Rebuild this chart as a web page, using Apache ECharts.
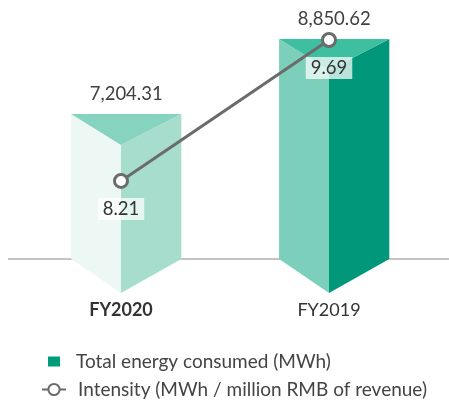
<!DOCTYPE html>
<html>
<head>
<meta charset="utf-8">
<script src="https://cdn.jsdelivr.net/npm/echarts@6/dist/echarts.min.js"></script>
<style>
  html, body { margin: 0; padding: 0; background: #fff; }
  #main { width: 449px; height: 400px; }
</style>
</head>
<body>
<div id="main"></div>
<script>
// chart data
const years = ['FY2020', 'FY2019'];
const energy = [7204.31, 8850.62];
const intensity = [8.21, 9.69];
const seriesNames = ['Total energy consumed (MWh)', 'Intensity (MWh / million RMB of revenue)'];

// axis ranges (not shown, only used to place the marks)
const energyMin = 4020, energyMax = 9265;
const intensityMin = 7.39, intensityMax = 9.9;

// prism face colours per bar
const faces = [
  { left: '#edf7f3', right: '#a6ddcd', top: '#86d3bf' },
  { left: '#7ccfba', right: '#00977a', top: '#3dbfa0' }
];

const font = 'Lato, "Open Sans", sans-serif';
const fmt = v => v.toLocaleString('en-US', { minimumFractionDigits: 2, maximumFractionDigits: 2 });

const chart = echarts.init(document.getElementById('main'));

// 三棱柱形状的柱子，前棱略偏左
function renderPrism(params, api) {
  const i = api.value(0);
  const v = api.value(1);
  const top = api.coord([i, v]);
  const base = api.coord([i, energyMin]);
  const band = api.size([1, 0])[0];
  const cx = top[0], x0 = cx - band * 0.24, x1 = cx + band * 0.29;
  const ty = top[1], by = base[1];
  const depth = 31, vDepth = 34;
  const c = faces[params.dataIndex];
  return {
    type: 'group',
    children: [
      { type: 'polygon', shape: { points: [[x0, ty], [cx, ty + depth], [cx, by + vDepth], [x0, by]] }, style: { fill: c.left } },
      { type: 'polygon', shape: { points: [[cx, ty + depth], [x1, ty], [x1, by], [cx, by + vDepth]] }, style: { fill: c.right } },
      { type: 'polygon', shape: { points: [[x0, ty], [x1, ty], [cx, ty + depth]] }, style: { fill: c.top } },
      {
        type: 'text',
        style: {
          text: fmt(v), x: (x0 + x1) / 2, y: ty - 20, align: 'center', verticalAlign: 'middle',
          fontSize: 18.5, fontFamily: font, fill: '#404040'
        }
      }
    ]
  };
}

chart.setOption({
  animation: false,
  grid: { left: 17, right: 16, top: 20, bottom: 141 },
  graphic: [{
    type: 'line', z: 0,
    shape: { x1: 8, y1: 259, x2: 449, y2: 259 },
    style: { stroke: '#8a8a8a', lineWidth: 1.2 }
  }],
  xAxis: {
    type: 'category',
    data: years,
    axisLine: { show: false },
    axisTick: { show: false },
    axisLabel: {
      margin: 42,
      fontSize: 18,
      fontFamily: font,
      color: '#333',
      formatter: (val, idx) => idx === 0 ? '{b|' + val + '}' : val,
      rich: { b: { fontSize: 18, fontWeight: 'bold', fontFamily: font, color: '#333' } }
    }
  },
  yAxis: [
    { type: 'value', min: energyMin, max: energyMax, show: false },
    { type: 'value', min: intensityMin, max: intensityMax, show: false }
  ],
  legend: [
    {
      data: [seriesNames[0]],
      left: 48, top: 352, padding: 0,
      icon: 'rect', itemWidth: 12, itemHeight: 10,
      textStyle: { fontSize: 19, fontFamily: font, color: '#444', padding: [0, 0, 0, 11] }
    },
    {
      data: [seriesNames[1]],
      left: 41, top: 380, padding: 0,
      itemWidth: 24, itemHeight: 14,
      textStyle: { fontSize: 19, fontFamily: font, color: '#444', padding: [0, 0, 0, 7] }
    }
  ],
  series: [
    {
      name: seriesNames[0],
      type: 'custom',
      z: 2,
      itemStyle: { color: '#009b77' },
      encode: { x: 0, y: 1 },
      renderItem: renderPrism,
      data: years.map((y, i) => [i, energy[i]])
    },
    {
      name: seriesNames[1],
      type: 'line',
      yAxisIndex: 1,
      z: 3,
      data: intensity,
      symbol: 'circle',
      symbolSize: 13,
      lineStyle: { color: '#6b6b6b', width: 3 },
      itemStyle: { color: '#fff', borderColor: '#6b6b6b', borderWidth: 3 },
      label: {
        show: true,
        position: 'bottom',
        distance: 9,
        fontSize: 18.5,
        fontFamily: font,
        color: '#333',
        backgroundColor: 'rgba(255,255,255,0.72)',
        padding: [2, 5, 1, 5]
      }
    }
  ]
});
</script>
</body>
</html>
